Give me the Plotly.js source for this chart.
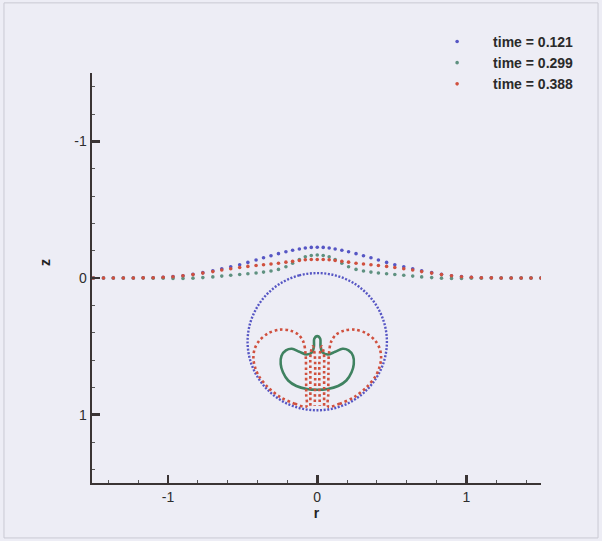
<!DOCTYPE html>
<html>
<head>
<meta charset="utf-8">
<script src="https://cdn.plot.ly/plotly-3.0.1.min.js"></script>
<style>html,body{margin:0;padding:0;background:#ededf5;}#chart{width:602px;height:541px;}</style>
</head>
<body>
<div id="chart"></div>
<script>
// ---- Data (r = horizontal, z = vertical, z axis reversed) ----
const timeLabels = ["time = 0.121", "time = 0.299", "time = 0.388"];
const tickVals = [-1, 0, 1];
const tickText = ["-1", "0", "1"];

// free-surface nodes (shared radial positions)
const surfR = [-1.5,-1.433,-1.367,-1.3,-1.233,-1.167,-1.1,-1.033,-0.967,-0.9,-0.833,-0.767,-0.7,-0.64,-0.58,-0.52,-0.465,-0.41,-0.36,-0.31,-0.26,-0.21,-0.165,-0.12,-0.08,-0.04,0,
               0.04,0.08,0.12,0.165,0.21,0.26,0.31,0.36,0.41,0.465,0.52,0.58,0.64,0.7,0.767,0.833,0.9,0.967,1.033,1.1,1.167,1.233,1.3,1.367,1.433,1.5];
const surfZ_0121 = [0,0,0,0,0,-0.001,-0.002,-0.005,-0.01,-0.017,-0.027,-0.039,-0.053,-0.067,-0.082,-0.097,-0.114,-0.132,-0.148,-0.163,-0.178,-0.192,-0.203,-0.212,-0.219,-0.224,-0.225,
                    -0.224,-0.219,-0.212,-0.203,-0.192,-0.178,-0.163,-0.148,-0.132,-0.114,-0.097,-0.082,-0.067,-0.053,-0.039,-0.027,-0.017,-0.01,-0.005,-0.002,-0.001,0,0,0,0,0];
const surfZ_0299 = [0,0,0,0,0,0,0.001,0.002,0.003,0.003,0.001,-0.003,-0.008,-0.014,-0.02,-0.026,-0.031,-0.037,-0.043,-0.051,-0.063,-0.082,-0.108,-0.135,-0.155,-0.165,-0.168,
                    -0.165,-0.155,-0.135,-0.108,-0.082,-0.063,-0.051,-0.043,-0.037,-0.031,-0.026,-0.02,-0.014,-0.008,-0.003,0.001,0.003,0.003,0.002,0.001,0,0,0,0,0,0];
const surfZ_0388 = [0,0,0,0,0,-0.001,-0.002,-0.005,-0.009,-0.016,-0.025,-0.036,-0.047,-0.058,-0.068,-0.077,-0.085,-0.091,-0.097,-0.102,-0.108,-0.116,-0.122,-0.128,-0.133,-0.135,-0.135,
                    -0.135,-0.133,-0.128,-0.122,-0.116,-0.108,-0.102,-0.097,-0.091,-0.085,-0.077,-0.068,-0.058,-0.047,-0.036,-0.025,-0.016,-0.009,-0.005,-0.002,-0.001,0,0,0,0,0];

// bubble at time 0.121 (near-circular contour)
const bubbleR_0121 = [0,-0.121,-0.234,-0.33,-0.404,-0.451,-0.467,-0.451,-0.404,-0.33,-0.234,-0.121,0,0.121,0.234,0.33,0.404,0.451,0.467,0.451,0.404,0.33,0.234,0.121,0];
const bubbleZ_0121 = [-0.036,-0.019,0.031,0.111,0.215,0.336,0.466,0.596,0.717,0.821,0.901,0.951,0.968,0.951,0.901,0.821,0.717,0.596,0.466,0.336,0.215,0.111,0.031,-0.019,-0.036];

// bubble at time 0.299 (kidney shape with thin spike)
const bubbleR_0299 = [0,-0.02,-0.022,-0.035,-0.07,-0.12,-0.17,-0.21,-0.24,-0.245,-0.23,-0.195,-0.14,-0.07,0,0.07,0.14,0.195,0.23,0.245,0.24,0.21,0.17,0.12,0.07,0.035,0.022,0.02,0];
const bubbleZ_0299 = [0.425,0.445,0.5,0.545,0.56,0.54,0.518,0.53,0.57,0.63,0.69,0.75,0.79,0.812,0.818,0.812,0.79,0.75,0.69,0.63,0.57,0.53,0.518,0.54,0.56,0.545,0.5,0.445,0.425];

// bubble at time 0.388 (two lobes + inner jet walls)
const lobeLeftR_0388  = [-0.074,-0.15,-0.25,-0.33,-0.39,-0.415,-0.428,-0.42,-0.39,-0.33,-0.25,-0.18,-0.125,-0.092,-0.078,-0.075,-0.074,-0.074];
const lobeLeftZ_0388  = [0.94,0.92,0.87,0.80,0.72,0.66,0.59,0.52,0.46,0.405,0.378,0.385,0.415,0.47,0.56,0.70,0.85,0.94];
const lobeRightR_0388 = [0.074,0.15,0.25,0.33,0.39,0.415,0.428,0.42,0.39,0.33,0.25,0.18,0.125,0.092,0.078,0.075,0.074,0.074];
const lobeRightZ_0388 = [0.94,0.92,0.87,0.80,0.72,0.66,0.59,0.52,0.46,0.405,0.378,0.385,0.415,0.47,0.56,0.70,0.85,0.94];
const jetLeftR_0388   = [-0.046,-0.046,-0.044,-0.03,-0.017,-0.017];
const jetLeftZ_0388   = [0.935,0.70,0.55,0.50,0.56,0.935];
const jetRightR_0388  = [0.046,0.046,0.044,0.03,0.017,0.017];
const jetRightZ_0388  = [0.935,0.70,0.55,0.50,0.56,0.935];

// ---- styling ----
const cBlue = '#5656c4', cGreen = '#3f8260', cGreenDot = '#5f9180', cRed = '#d0503e';
const bg = '#ededf5';
const fontFam = 'Liberation Sans, Arial, sans-serif';

const redBubbleR = lobeLeftR_0388.concat([null], lobeRightR_0388, [null], jetLeftR_0388, [null], jetRightR_0388);
const redBubbleZ = lobeLeftZ_0388.concat([null], lobeRightZ_0388, [null], jetLeftZ_0388, [null], jetRightZ_0388);

const traces = [
  {x: bubbleR_0121, y: bubbleZ_0121, mode: 'lines', showlegend: false, hoverinfo: 'skip',
   line: {color: cBlue, width: 2.4, shape: 'spline', dash: '2px,1.6px'}},
  {x: surfR, y: surfZ_0121, mode: 'markers', name: timeLabels[0],
   marker: {color: cBlue, size: 3.6}},
  {x: bubbleR_0299, y: bubbleZ_0299, mode: 'lines', showlegend: false, hoverinfo: 'skip',
   line: {color: cGreen, width: 2.6, shape: 'spline', smoothing: 0.9}},
  {x: surfR, y: surfZ_0299, mode: 'markers', name: timeLabels[1],
   marker: {color: cGreenDot, size: 3.6}},
  {x: redBubbleR, y: redBubbleZ, mode: 'lines', showlegend: false, hoverinfo: 'skip', connectgaps: false,
   line: {color: cRed, width: 2.6, shape: 'spline', smoothing: 0.9, dash: '2.6px,2.8px'}},
  {x: surfR, y: surfZ_0388, mode: 'markers', name: timeLabels[2],
   marker: {color: cRed, size: 3.6}}
];

const axisCommon = {
  showgrid: false, zeroline: false, showline: true, linecolor: '#3a3434', linewidth: 2.4,
  ticks: 'inside', ticklen: 8, tickwidth: 2.6, tickcolor: '#3a3434',
  tickfont: {family: fontFam, size: 14, color: '#2e2e2e'},
  tickmode: 'array', tickvals: tickVals, ticktext: tickText,
  minor: {ticks: 'inside', ticklen: 3, tickwidth: 1, tickcolor: '#555', tickmode: 'linear', tick0: 0, dtick: 0.2, showgrid: false}
};

const layout = {
  width: 602, height: 541,
  paper_bgcolor: bg, plot_bgcolor: bg,
  margin: {l: 92, r: 61, t: 73, b: 58},
  showlegend: true,
  xaxis: Object.assign({}, axisCommon, {
    range: [-1.51, 1.5],
    title: {text: '<b>r</b>', font: {family: fontFam, size: 14, color: '#222'}, standoff: 4}
  }),
  yaxis: Object.assign({}, axisCommon, {
    range: [1.5, -1.5],
    title: {text: ''}
  }),
  annotations: [
    {text: '<b>z</b>', xref: 'paper', yref: 'paper', x: -0.1047, y: 0.539, showarrow: false,
     textangle: -90, xanchor: 'center', yanchor: 'middle', font: {family: fontFam, size: 14, color: '#222'}}
  ],
  legend: {
    x: 0.733, xanchor: 'left', y: 1.115, yanchor: 'top',
    bgcolor: 'rgba(0,0,0,0)', borderwidth: 0, itemwidth: 62,
    font: {family: fontFam, size: 14, color: '#2a2a2a', weight: 'bold'}
  },
  shapes: [
    {type: 'rect', xref: 'paper', yref: 'paper', x0: -0.196, x1: 1.127, y0: -0.134, y1: 1.171,
     line: {color: '#c9c9d3', width: 1}, fillcolor: 'rgba(0,0,0,0)', layer: 'below'}
  ]
};

Plotly.newPlot('chart', traces, layout, {displayModeBar: false, staticPlot: true});
</script>
</body>
</html>
